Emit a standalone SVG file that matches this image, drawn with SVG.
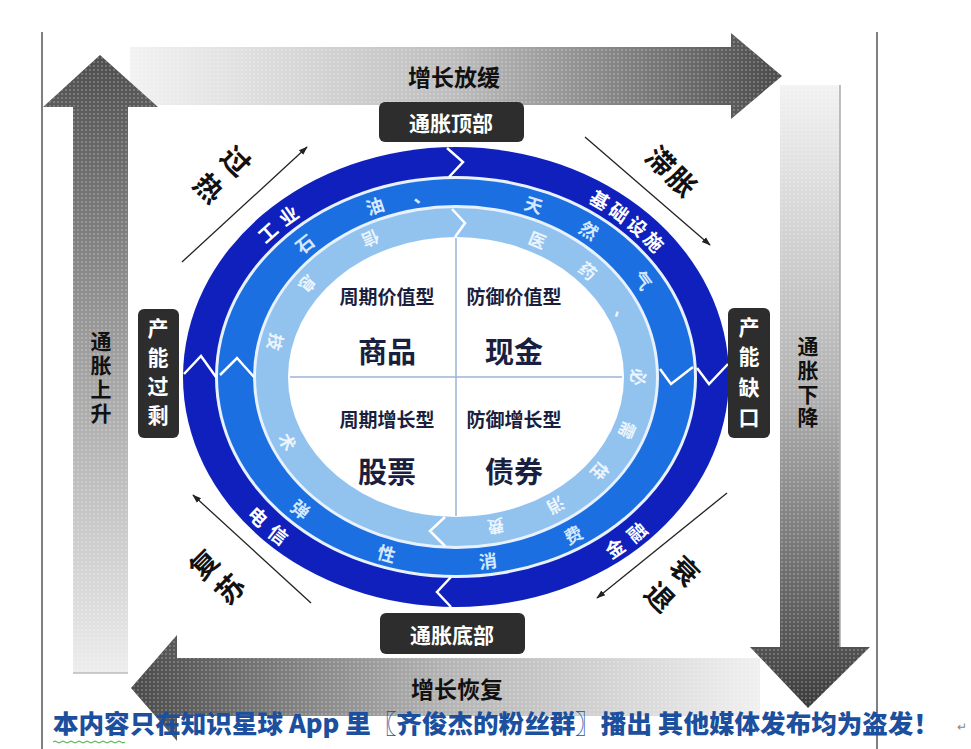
<svg xmlns="http://www.w3.org/2000/svg" width="971" height="749" viewBox="0 0 971 749">
<style>
text{font-family:"Noto Sans CJK SC","Noto Sans CJK JP",sans-serif;}
.axis{font-size:23px;font-weight:700;fill:#111;text-anchor:middle;dominant-baseline:central}
.vlab{font-size:21px;font-weight:700;fill:#111;text-anchor:middle;dominant-baseline:central}
.box{fill:#2d2d2d}
.boxt{font-size:21px;font-weight:700;fill:#fff;text-anchor:middle;dominant-baseline:central}
.stage{font-size:28px;font-weight:700;fill:#111;text-anchor:middle;dominant-baseline:central}
.dk{font-size:19px;font-weight:700;fill:#fff;dominant-baseline:central;text-anchor:middle}
.md{font-size:18px;font-weight:700;fill:#d4e8ff;dominant-baseline:central;text-anchor:middle}
.lt{font-size:17px;font-weight:700;fill:#fff;fill-opacity:.85;dominant-baseline:central;text-anchor:middle}
.q1{font-size:19px;font-weight:700;fill:#1b1f3f;text-anchor:middle;dominant-baseline:central}
.q2{font-size:29px;font-weight:700;fill:#1b1f3f;text-anchor:middle;dominant-baseline:central}
.chev{fill:none;stroke:#fff;stroke-width:2.5;stroke-linejoin:miter}
.conn{stroke:#222;stroke-width:1.3;fill:none;marker-end:url(#ah)}
.frame{stroke:#555;stroke-width:1.5}
.dots{fill:url(#dots)}
</style>
<defs>
<marker id="ah" viewBox="0 0 10 10" refX="9" refY="5" markerWidth="9" markerHeight="9" orient="auto" markerUnits="userSpaceOnUse"><path d="M0,1.5 L10,5 L0,8.5 z" fill="#222"/></marker>
<pattern id="dots" width="4" height="4" patternUnits="userSpaceOnUse"><circle cx="2" cy="2" r="0.9" fill="#fff" fill-opacity="0.3"/></pattern>
<linearGradient id="gUp" gradientUnits="userSpaceOnUse" x1="0" y1="55" x2="0" y2="673"><stop offset="0" stop-color="#4e4e4e"/><stop offset="0.45" stop-color="#9a9a9a"/><stop offset="1" stop-color="#ededed"/></linearGradient>
<linearGradient id="gTop" gradientUnits="userSpaceOnUse" x1="130" y1="0" x2="782" y2="0"><stop offset="0" stop-color="#f2f2f2"/><stop offset="0.5" stop-color="#bdbdbd"/><stop offset="1" stop-color="#4a4a4a"/></linearGradient>
<linearGradient id="gDown" gradientUnits="userSpaceOnUse" x1="0" y1="85" x2="0" y2="708"><stop offset="0" stop-color="#f2f2f2"/><stop offset="0.5" stop-color="#b0b0b0"/><stop offset="1" stop-color="#3c3c3c"/></linearGradient>
<linearGradient id="gBot" gradientUnits="userSpaceOnUse" x1="131" y1="0" x2="760" y2="0"><stop offset="0" stop-color="#4a4a4a"/><stop offset="0.5" stop-color="#b4b4b4"/><stop offset="1" stop-color="#f0f0f0"/></linearGradient>
<path id="dkT" d="M199,377 A257,215.5 0 1 1 713,377 A257,215.5 0 1 1 199,377"/>
<path id="dkB" d="M199,377 A257,215.5 0 1 0 713,377 A257,215.5 0 1 0 199,377"/>
<path id="mdT" d="M235.5,377 A220.5,185 0 1 1 676.5,377 A220.5,185 0 1 1 235.5,377"/>
<path id="mdB" d="M235.5,377 A220.5,185 0 1 0 676.5,377 A220.5,185 0 1 0 235.5,377"/>
<path id="ltL" d="M456,222.5 A184,154.5 0 1 0 456,531.5 A184,154.5 0 1 0 456,222.5"/>
<path id="ltR" d="M456,222.5 A184,154.5 0 1 1 456,531.5 A184,154.5 0 1 1 456,222.5"/>
</defs>
<rect width="971" height="749" fill="#fff"/>
<line class="frame" x1="42" y1="32" x2="42" y2="749"/>
<line class="frame" x1="877" y1="32" x2="877" y2="749"/>

<g id="arrow-top">
<polygon points="130,47 731,47 731,33 782,76 731,119 731,105 130,105" fill="url(#gTop)"/>
<polygon class="dots" points="130,47 731,47 731,33 782,76 731,119 731,105 130,105"/>
<text class="axis" x="454" y="76">增长放缓</text>
</g>
<g id="arrow-down">
<polygon points="780,85 840,85 840,647 870,647 808,708 750,647 780,647" fill="url(#gDown)"/>
<polygon class="dots" points="780,85 840,85 840,647 870,647 808,708 750,647 780,647"/>
<line x1="840" y1="85" x2="840" y2="647" stroke="#aaa" stroke-width="1.5"/>
<text class="vlab" x="808" y="345">通</text><text class="vlab" x="808" y="369">胀</text><text class="vlab" x="808" y="393">下</text><text class="vlab" x="808" y="416">降</text>
</g>
<g id="arrow-bottom">
<polygon points="131,688 177,635 177,658 760,658 760,716 177,716 177,741" fill="url(#gBot)"/>
<polygon class="dots" points="131,688 177,635 177,658 760,658 760,716 177,716 177,741"/>
<text class="axis" x="457" y="688">增长恢复</text>
</g>
<g id="arrow-up">
<polygon points="100,55 158,107 128,107 128,673 73,673 73,107 43,107" fill="url(#gUp)"/>
<polygon class="dots" points="100,55 158,107 128,107 128,673 73,673 73,107 43,107"/>
<line x1="73" y1="673" x2="128" y2="673" stroke="#bbb" stroke-width="1.5"/>
<text class="vlab" x="101" y="340">通</text><text class="vlab" x="101" y="364">胀</text><text class="vlab" x="101" y="388">上</text><text class="vlab" x="101" y="412">升</text>
</g>

<g id="clock">
<ellipse cx="456" cy="377" rx="273" ry="230" fill="#0f20bd"/>
<ellipse cx="456" cy="377" rx="241" ry="201" fill="#e8f2ff"/>
<ellipse cx="456" cy="377" rx="238" ry="198" fill="#1b6fe0"/>
<ellipse cx="456" cy="377" rx="203" ry="172" fill="#e8f2ff"/>
<ellipse cx="456" cy="377" rx="200" ry="169" fill="#92c3ef"/>
<ellipse cx="456" cy="377" rx="168" ry="140" fill="#fff"/>
<polyline class="chev" points="447,148 463,162 449,177"/>
<polyline class="chev" points="452,209 465,223 455,237"/>
<polyline class="chev" points="184,374 201,356 216,377"/>
<polyline class="chev" points="220,375 237,358 254,377"/>
<polyline class="chev" points="660,369 671,384 693,367"/>
<polyline class="chev" points="697,368 709,384 728,364"/>
<polyline class="chev" points="451,577 437,592 451,607"/>
<polyline class="chev" points="445,517 430,531 445,546"/>
<line x1="456" y1="238" x2="456" y2="516" stroke="#9bb5d6" stroke-width="1.5"/>
<line x1="290" y1="377" x2="622" y2="377" stroke="#9bb5d6" stroke-width="1.5"/>
</g>
<g id="ring-outer-text">
<text class="dk" letter-spacing="8"><textPath href="#dkT" startOffset="12.3%">工业</textPath></text>
<text class="dk" letter-spacing="4"><textPath href="#dkT" startOffset="37.6%">基础设施</textPath></text>
<text class="dk" letter-spacing="8"><textPath href="#dkB" startOffset="11.6%">电信</textPath></text>
<text class="dk" letter-spacing="8"><textPath href="#dkB" startOffset="37.4%">金融</textPath></text>
</g>
<g id="ring-middle-text">
<text class="md"><textPath href="#mdT" startOffset="12.2%">石</textPath></text>
<text class="md"><textPath href="#mdT" startOffset="18.5%">油</textPath></text>
<text class="md"><textPath href="#mdT" startOffset="22.3%">、</textPath></text>
<text class="md"><textPath href="#mdT" startOffset="31.2%">天</textPath></text>
<text class="md"><textPath href="#mdT" startOffset="36%">然</textPath></text>
<text class="md"><textPath href="#mdT" startOffset="41.8%">气</textPath></text>
<text class="md"><textPath href="#mdB" startOffset="11.9%">弹</textPath></text>
<text class="md"><textPath href="#mdB" startOffset="19.5%">性</textPath></text>
<text class="md"><textPath href="#mdB" startOffset="27.5%">消</textPath></text>
<text class="md"><textPath href="#mdB" startOffset="34.5%">费</textPath></text>
</g>
<g id="ring-inner-text">
<text class="lt"><textPath href="#ltL" startOffset="8.2%">信</textPath></text>
<text class="lt"><textPath href="#ltL" startOffset="15.5%">息</textPath></text>
<text class="lt"><textPath href="#ltL" startOffset="21.7%">技</textPath></text>
<text class="lt"><textPath href="#ltL" startOffset="31.3%">术</textPath></text>
<text class="lt"><textPath href="#ltR" startOffset="7.9%">医</textPath></text>
<text class="lt"><textPath href="#ltR" startOffset="13.5%">药</textPath></text>
<text class="lt"><textPath href="#ltR" startOffset="19%">、</textPath></text>
<text class="lt"><textPath href="#ltR" startOffset="25%">必</textPath></text>
<text class="lt"><textPath href="#ltR" startOffset="30.2%">需</textPath></text>
<text class="lt"><textPath href="#ltR" startOffset="34.9%">性</textPath></text>
<text class="lt"><textPath href="#ltR" startOffset="40.2%">消</textPath></text>
<text class="lt"><textPath href="#ltR" startOffset="46.2%">费</textPath></text>
</g>
<g id="quadrant-commodity"><text class="q1" x="387" y="295">周期价值型</text><text class="q2" x="387" y="350">商品</text></g>
<g id="quadrant-cash"><text class="q1" x="514" y="295">防御价值型</text><text class="q2" x="514" y="350">现金</text></g>
<g id="quadrant-stock"><text class="q1" x="387" y="418">周期增长型</text><text class="q2" x="387" y="470">股票</text></g>
<g id="quadrant-bond"><text class="q1" x="514" y="418">防御增长型</text><text class="q2" x="514" y="470">债券</text></g>

<g id="box-top"><rect class="box" x="379" y="102" width="145" height="40" rx="6"/><text class="boxt" x="451" y="122">通胀顶部</text></g>
<g id="box-bottom"><rect class="box" x="380" y="613" width="145" height="41" rx="6"/><text class="boxt" x="452" y="634">通胀底部</text></g>
<g id="box-left"><rect class="box" x="138" y="309" width="41" height="129" rx="6"/>
<text class="boxt" x="158" y="327">产</text><text class="boxt" x="158" y="356">能</text><text class="boxt" x="158" y="385">过</text><text class="boxt" x="158" y="414">剩</text></g>
<g id="box-right"><rect class="box" x="728" y="308" width="42" height="130" rx="6"/>
<text class="boxt" x="749" y="326">产</text><text class="boxt" x="749" y="355">能</text><text class="boxt" x="749" y="386">缺</text><text class="boxt" x="749" y="416">口</text></g>

<g id="connectors">
<line class="conn" x1="182" y1="262" x2="307" y2="147"/>
<line class="conn" x1="585" y1="137" x2="710" y2="245"/>
<line class="conn" x1="727" y1="493" x2="597" y2="598"/>
<line class="conn" x1="311" y1="603" x2="193" y2="495"/>
</g>
<g id="stage-overheat"><text class="stage" x="237" y="160" transform="rotate(45 237 160)">过</text><text class="stage" x="210" y="187" transform="rotate(45 210 187)">热</text></g>
<g id="stage-stagflation"><text class="stage" x="662" y="160" transform="rotate(45 662 160)">滞</text><text class="stage" x="683" y="181" transform="rotate(45 683 181)">胀</text></g>
<g id="stage-recovery"><text class="stage" x="203" y="563" transform="rotate(-45 203 563)">复</text><text class="stage" x="229" y="588" transform="rotate(-45 229 588)">苏</text></g>
<g id="stage-reflation"><text class="stage" x="686" y="570" transform="rotate(45 686 570)">衰</text><text class="stage" x="661" y="596" transform="rotate(45 661 596)">退</text></g>

<g id="watermark">
<text x="53" y="733" font-size="25.5" font-weight="900" fill="#1c4f9d" textLength="886" lengthAdjust="spacingAndGlyphs">本内容只在知识星球 App 里〖齐俊杰的粉丝群〗播出 其他媒体发布均为盗发！</text>
<path d="M53,742 q2,-2 4,0 t4,0 t4,0 t4,0 t4,0 t4,0 t4,0 t4,0 t4,0 t4,0 t4,0 t4,0 t4,0 t4,0 t4,0 t4,0 t4,0 t4,0" fill="none" stroke="#3a3" stroke-width="1"/>
<text x="957" y="731" font-size="12" fill="#888">↵</text>
</g>
</svg>
